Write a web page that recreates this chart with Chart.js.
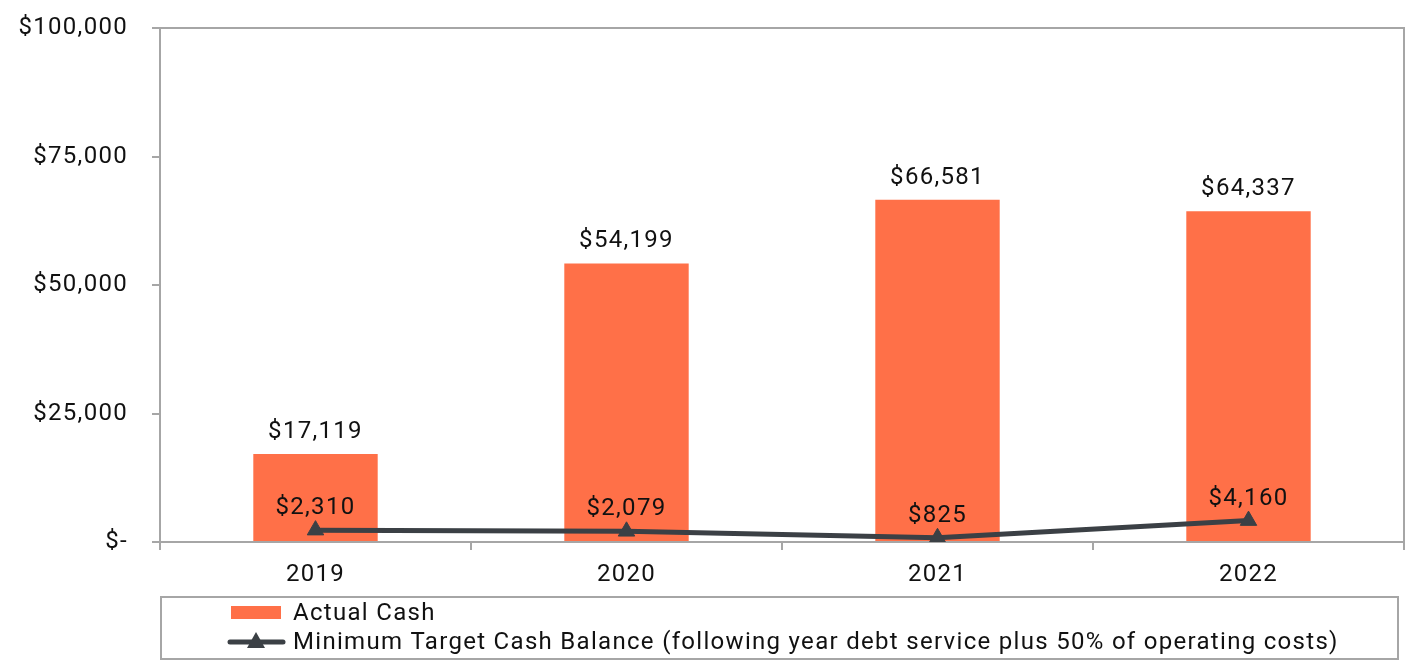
<!DOCTYPE html>
<html>
<head>
<meta charset="utf-8">
<script src="https://cdn.jsdelivr.net/npm/chart.js@4"></script>
<style>
  html, body { margin: 0; padding: 0; background: #fff; }
  #wrap { width: 1408px; height: 663px; position: relative; }
</style>
</head>
<body>
<div id="wrap"><canvas id="chart"></canvas></div>
<script>
const years = ['2019', '2020', '2021', '2022'];
const actualCash = [17119, 54199, 66581, 64337];
const minTarget = [2310, 2079, 825, 4160];
const yTicks = [0, 25000, 50000, 75000, 100000];

const ORANGE = '#ff7048';
const DARK = '#3b4045';
const AXIS = '#a6a6a6';
const FONT = 'Roboto, "Noto Sans", sans-serif';
const SPACING = '1.3px';

const money = (v) => v === 0 ? '$-' : '$' + v.toLocaleString('en-US');

// the text in the original is slightly tracked out
const tracking = {
  id: 'tracking',
  beforeLayout(chart) { chart.ctx.letterSpacing = SPACING; },
  beforeDraw(chart) { chart.ctx.letterSpacing = SPACING; }
};

// labels above bars and line points
const valueLabels = {
  id: 'valueLabels',
  afterDatasetsDraw(chart) {
    const ctx = chart.ctx;
    ctx.save();
    ctx.letterSpacing = SPACING;
    ctx.font = '24px ' + FONT;
    ctx.fillStyle = '#111';
    ctx.textAlign = 'center';
    ctx.textBaseline = 'middle';
    chart.data.datasets.forEach((ds, i) => {
      const meta = chart.getDatasetMeta(i);
      meta.data.forEach((el, j) => {
        ctx.fillText(money(ds.data[j]), el.x, el.y - 22);
      });
    });
    ctx.restore();
  }
};

// top + right border of plot area
const plotFrame = {
  id: 'plotFrame',
  beforeDatasetsDraw(chart) {
    const { ctx, chartArea: a } = chart;
    ctx.save();
    ctx.strokeStyle = AXIS;
    ctx.lineWidth = 2;
    ctx.beginPath();
    ctx.moveTo(a.left, a.top);
    ctx.lineTo(a.right, a.top);
    ctx.lineTo(a.right, a.bottom + 8);
    ctx.stroke();
    ctx.restore();
  }
};

// boxed legend, items left aligned
const boxLegend = {
  id: 'boxLegend',
  afterDraw(chart) {
    const ctx = chart.ctx;
    const ds = chart.data.datasets;
    ctx.save();
    ctx.letterSpacing = SPACING;
    ctx.strokeStyle = AXIS;
    ctx.lineWidth = 2;
    ctx.strokeRect(161, 597, 1237, 62);
    ctx.font = '24px ' + FONT;
    ctx.textAlign = 'left';
    ctx.textBaseline = 'middle';
    // bar swatch
    ctx.fillStyle = ds[0].backgroundColor;
    ctx.fillRect(231, 606, 50, 13);
    ctx.fillStyle = '#111';
    ctx.fillText(ds[0].label, 293, 614);
    // line swatch
    ctx.strokeStyle = ds[1].borderColor;
    ctx.lineWidth = 5;
    ctx.lineCap = 'round';
    ctx.beginPath();
    ctx.moveTo(230, 642);
    ctx.lineTo(283, 642);
    ctx.stroke();
    ctx.fillStyle = ds[1].borderColor;
    ctx.beginPath();
    ctx.moveTo(247, 648);
    ctx.lineTo(265, 648);
    ctx.lineTo(256, 632);
    ctx.closePath();
    ctx.fill();
    ctx.fillStyle = '#111';
    ctx.fillText(ds[1].label, 293, 643);
    ctx.restore();
  }
};

new Chart(document.getElementById('chart'), {
  data: {
    labels: years,
    datasets: [
      {
        type: 'bar',
        label: 'Actual Cash',
        data: actualCash,
        backgroundColor: ORANGE,
        categoryPercentage: 1,
        barPercentage: 0.4,
        order: 2
      },
      {
        type: 'line',
        label: 'Minimum Target Cash Balance (following year debt service plus 50% of operating costs)',
        data: minTarget,
        borderColor: DARK,
        backgroundColor: DARK,
        borderWidth: 5,
        tension: 0,
        pointStyle: 'triangle',
        pointRadius: 9.5,
        pointBorderWidth: 1,
        order: 1
      }
    ]
  },
  options: {
    responsive: true,
    maintainAspectRatio: false,
    animation: false,
    layout: { autoPadding: false, padding: { top: 28, right: 4, bottom: 76, left: 0 } },
    plugins: {
      legend: { display: false },
      tooltip: { enabled: false }
    },
    scales: {
      x: {
        afterFit: (s) => { s.height = 45; s.paddingLeft = 0; s.paddingRight = 0; },
        border: { color: AXIS, width: 2 },
        grid: { offset: true, drawOnChartArea: false, drawTicks: true, tickLength: 8, color: AXIS, lineWidth: 2 },
        ticks: { color: '#111', font: { family: FONT, size: 24 }, padding: 11 }
      },
      y: {
        min: 0,
        max: 100000,
        afterFit: (s) => { s.width = 160; s.paddingTop = 0; s.paddingBottom = 0; },
        afterBuildTicks: (s) => { s.ticks = yTicks.map(v => ({ value: v })); },
        border: { color: AXIS, width: 2 },
        grid: { drawOnChartArea: false, drawTicks: true, tickLength: 8, color: AXIS, lineWidth: 2 },
        ticks: { color: '#111', font: { family: FONT, size: 24 }, padding: 24, callback: (v) => money(v) }
      }
    }
  },
  plugins: [tracking, valueLabels, plotFrame, boxLegend]
});
</script>
</body>
</html>
